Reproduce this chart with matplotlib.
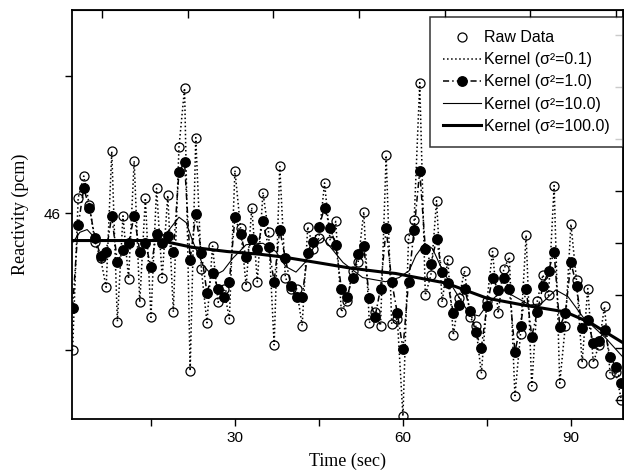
import numpy as np
import matplotlib
matplotlib.use('Agg')
import matplotlib.pyplot as plt

# Data
time = np.arange(1, 100)

raw = [45.00, 46.11, 46.27, 46.06, 45.79, 45.67, 45.46, 46.45, 45.21, 45.98,
       45.52, 46.38, 45.35, 46.11, 45.24, 46.18, 45.53, 46.13, 45.28, 46.48,
       46.91, 44.85, 46.55, 45.59, 45.20, 45.76, 45.35, 45.45, 45.23, 46.31,
       45.89, 45.47, 46.04, 45.50, 46.15, 45.86, 45.04, 46.34, 45.53, 45.45,
       45.45, 45.18, 45.90, 45.74, 45.82, 46.22, 45.80, 45.94, 45.28, 45.36,
       45.58, 45.64, 46.01, 45.20, 45.28, 45.18, 46.42, 45.19, 45.23, 44.52,
       45.82, 45.95, 46.95, 45.40, 45.55, 46.09, 45.35, 45.66, 45.11, 45.38,
       45.58, 45.24, 45.18, 44.83, 45.36, 45.72, 45.27, 45.59, 45.68, 44.67,
       45.12, 45.84, 44.74, 45.36, 45.55, 45.40, 46.20, 44.76, 45.18, 45.92,
       45.51, 44.91, 45.45, 44.91, 45.04, 45.32, 44.83, 44.84, 44.64]

kernel_1 = [45.31, 45.91, 46.18, 46.04, 45.82, 45.69, 45.72, 45.98, 45.64, 45.73,
            45.78, 45.98, 45.72, 45.78, 45.61, 45.85, 45.78, 45.83, 45.72, 46.30,
            46.37, 45.66, 45.99, 45.71, 45.42, 45.56, 45.45, 45.39, 45.50, 45.97,
            45.85, 45.68, 45.81, 45.74, 45.94, 45.75, 45.50, 45.88, 45.67, 45.47,
            45.39, 45.39, 45.71, 45.79, 45.90, 46.04, 45.89, 45.77, 45.45, 45.39,
            45.53, 45.70, 45.76, 45.38, 45.24, 45.45, 45.89, 45.50, 45.27, 45.01,
            45.50, 45.88, 46.31, 45.74, 45.63, 45.81, 45.57, 45.49, 45.27, 45.33,
            45.45, 45.29, 45.13, 45.02, 45.32, 45.53, 45.44, 45.53, 45.45, 44.99,
            45.18, 45.45, 45.10, 45.28, 45.47, 45.58, 45.72, 45.17, 45.27, 45.64,
            45.47, 45.16, 45.22, 45.05, 45.07, 45.15, 44.95, 44.88, 44.76]

t_10 = [1.1, 2.3, 3.6, 5.4, 7.7, 10.7, 14.8, 17.7, 20.0, 21.3, 22.5, 24.3, 26.1,
        27.9, 29.6, 32.0, 35.0, 37.3, 39.1, 40.9, 42.5, 44.5, 45.7, 47.5, 49.3,
        52.8, 56.9, 59.3, 61.1, 62.3, 63.9, 65.3, 67.1, 69.5, 71.8, 73.6, 75.4,
        77.9, 80.0, 82.7, 84.7, 87.3, 89.5, 92.2, 96.2, 99.3]
kernel_10 = [45.79, 45.86, 45.88, 45.80, 45.80, 45.80, 45.80, 45.85, 45.97, 45.93,
             45.79, 45.62, 45.54, 45.58, 45.67, 45.77, 45.78, 45.72, 45.61, 45.57,
             45.64, 45.78, 45.82, 45.73, 45.64, 45.53, 45.50, 45.53, 45.58, 45.69,
             45.78, 45.74, 45.58, 45.42, 45.27, 45.25, 45.35, 45.44, 45.39, 45.33,
             45.34, 45.44, 45.39, 45.24, 45.09, 44.95]

t_100 = [1.0, 16.6, 22.5, 28.6, 34.5, 38.6, 44.6, 50.5, 56.4, 58.7, 62.5, 67.7,
         75.0, 81.5, 89.0, 93.5, 99.5]
kernel_100 = [45.80, 45.80, 45.75, 45.72, 45.70, 45.68, 45.64, 45.60, 45.57, 45.56,
              45.53, 45.49, 45.38, 45.33, 45.28, 45.20, 45.05]

fig = plt.figure(figsize=(6.24, 4.75), dpi=100)
ax = fig.add_axes([0.1154, 0.118, 0.883, 0.861])

# kernel sigma^2 = 0.1 -> follows the raw data
ax.plot(time, raw, color='black', linestyle=':', linewidth=1.1, label='Kernel (σ²=0.1)', zorder=2)
ax.plot(time, kernel_1, color='black', linestyle=(0, (4, 2, 1, 2)), linewidth=1.1,
        marker='o', markersize=6.8, markerfacecolor='black', label='Kernel (σ²=1.0)', zorder=3)
ax.plot(t_10, kernel_10, color='black', linewidth=0.8, label='Kernel (σ²=10.0)', zorder=4)
ax.plot(t_100, kernel_100, color='black', linewidth=2.2, label='Kernel (σ²=100.0)', zorder=4)
ax.plot(time, raw, linestyle='none', marker='o', markersize=6.5, markerfacecolor='none',
        markeredgecolor='black', markeredgewidth=0.9, label='Raw Data', zorder=5)

ax.set_xlim(0.9, 99.3)
ax.set_ylim(44.50, 47.48)

ax.set_xticks([15, 30, 45, 60, 75, 90])
ax.set_xticklabels(['', '30', '', '60', '', '90'])
ax.set_yticks([45, 46, 47])
ax.set_yticklabels(['', '46', ''])
ax.tick_params(direction='out', length=5, width=1, labelsize=11)
for lab in ax.get_xticklabels() + ax.get_yticklabels():
    lab.set_fontfamily('Liberation Sans')

for s in ax.spines.values():
    s.set_linewidth(1.3)

# extra inward ticks on the top and right frame
top = ax.secondary_xaxis('top')
top.set_xticks(np.arange(6.25, 99.5, 15.3))
top.tick_params(direction='in', length=6, width=1, labeltop=False)
right = ax.secondary_yaxis('right')
right.set_yticks(np.arange(44.64, 47.4, 0.38))
right.tick_params(direction='in', length=6, width=1, labelright=False)

ax.set_xlabel('Time (sec)', fontfamily='Liberation Serif', fontsize=13, labelpad=6)
ax.set_ylabel('Reactivity (pcm)', fontfamily='Liberation Serif', fontsize=13, labelpad=10)

h, l = ax.get_legend_handles_labels()
order = [4, 0, 1, 2, 3]
leg = ax.legend([h[i] for i in order], [l[i] for i in order], loc='upper right',
                bbox_to_anchor=(1.0, 0.982), borderaxespad=0, frameon=True, fancybox=False,
                prop={'family': 'Liberation Sans', 'size': 11.5}, handlelength=2.4,
                handletextpad=0.2, labelspacing=0.45, borderpad=0.8)
leg.get_frame().set_edgecolor('black')
leg.get_frame().set_linewidth(1.1)

fig.savefig('out.png', dpi=100)
